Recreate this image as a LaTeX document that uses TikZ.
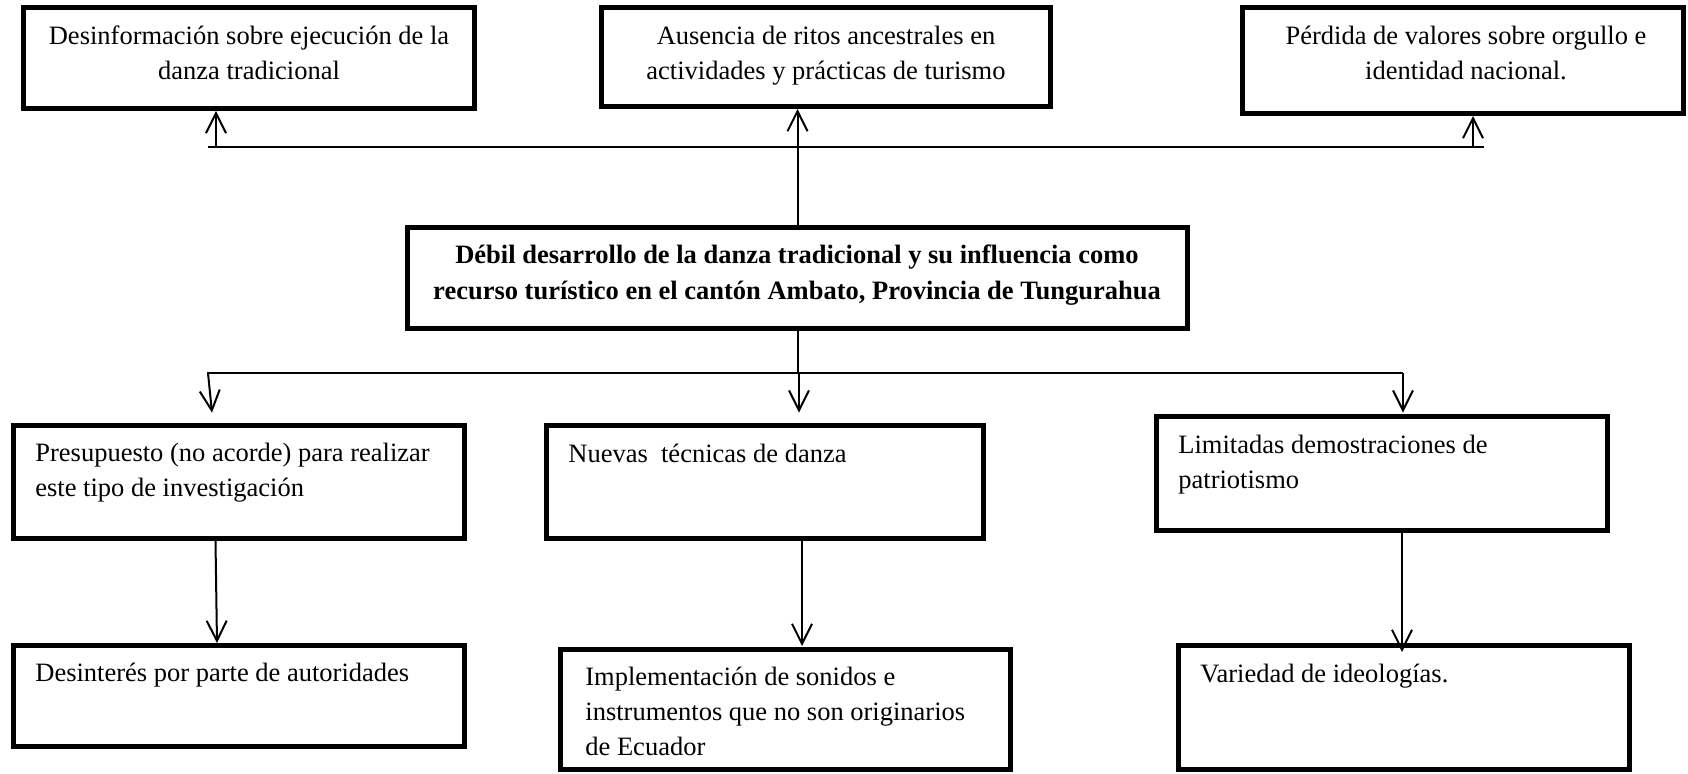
\documentclass[tikz,border=0pt]{standalone}
\usepackage{fontspec}
\setmainfont{Liberation Serif}
\usetikzlibrary{arrows.meta}
\begin{document}
\begin{tikzpicture}[x=0.5pt,y=-0.5pt,
  box/.style={draw, line width=2.5pt, inner sep=0pt, rectangle},
  txt/.style={inner sep=0pt, font=\fontsize{13.25pt}{17.5pt}\selectfont},
  btxt/.style={inner sep=0pt, font=\fontsize{13.25pt}{17.5pt}\selectfont\bfseries},
  conn/.style={line width=1pt},
  arr/.style={conn, -{Straight Barb[length=10pt,width=10pt,line width=1pt]}}]
\useasboundingbox (0,0) rectangle (1688,774);

% boxes
\node[box, minimum width=225.5pt, minimum height=50.5pt] (b1) at (249,58) {};
\node[box, minimum width=224.5pt, minimum height=49.5pt] (b2) at (826,57) {};
\node[box, minimum width=220.5pt, minimum height=53pt] (b3) at (1463,60.5) {};
\node[box, minimum width=390pt, minimum height=50.5pt] (bc) at (797.5,278) {};
\node[box, minimum width=225.5pt, minimum height=56.5pt] (b4) at (239,482) {};
\node[box, minimum width=218.5pt, minimum height=56.5pt] (b5) at (765,482) {};
\node[box, minimum width=225.5pt, minimum height=57pt] (b6) at (1382,473.5) {};
\node[box, minimum width=225.5pt, minimum height=50.5pt] (b7) at (239,696) {};
\node[box, minimum width=225pt, minimum height=60pt] (b8) at (785.5,709.5) {};
\node[box, minimum width=225.5pt, minimum height=62pt] (b9) at (1404,707.5) {};

% texts
\node[txt, anchor=base] (t1a) at (249,45) {Desinformación sobre ejecución de la};
\node[txt, anchor=base] (t1b) at (249,80) {danza tradicional};
\node[txt, anchor=base] (t2a) at (826,45) {Ausencia de ritos ancestrales en};
\node[txt, anchor=base] (t2b) at (826,80) {actividades y prácticas de turismo};
\node[txt, anchor=base] (t3a) at (1466,45) {Pérdida de valores sobre orgullo e};
\node[txt, anchor=base] (t3b) at (1466,80) {identidad nacional.};
\node[btxt, anchor=base] (tca) at (797,264) {Débil desarrollo de la danza tradicional y su influencia como};
\node[btxt, anchor=base] (tcb) at (797,300) {recurso turístico en el cantón Ambato, Provincia de Tungurahua};
\node[txt, anchor=base west] (t4a) at (35,462) {Presupuesto (no acorde) para realizar};
\node[txt, anchor=base west] (t4b) at (35,497) {este tipo de investigación};
\node[txt, anchor=base west] (t5a) at (568,463) {Nuevas\ \ técnicas de danza};
\node[txt, anchor=base west] (t6a) at (1178,454) {Limitadas demostraciones de};
\node[txt, anchor=base west] (t6b) at (1178,489) {patriotismo};
\node[txt, anchor=base west] (t7a) at (35,682) {Desinterés por parte de autoridades};
\node[txt, anchor=base west] (t8a) at (585,686) {Implementación de sonidos e};
\node[txt, anchor=base west] (t8b) at (585,721) {instrumentos que no son originarios};
\node[txt, anchor=base west] (t8c) at (585,756) {de Ecuador};
\node[txt, anchor=base west] (t9a) at (1200,683) {Variedad de ideologías.};

% top connectors
\coordinate (tl) at (208,147);
\coordinate (tr) at (1484,147);
\coordinate (u1) at (216,147);
\coordinate (u3) at (1473,147);
\draw[conn] (tl) -- (tr);
\draw[arr] (u1) -- (u1 |- b1.south);
\draw[arr] (u3) -- (u3 |- b3.south);
\draw[arr] (bc.north) -- (bc.north |- b2.south);

% lower connectors
\coordinate (bl) at (207,373);
\coordinate (br) at (1403,373);
\coordinate (bm) at (bc.south |- bl);
\coordinate (d1) at (208,373);
\coordinate (d1t) at (212,412.7);
\coordinate (d2) at (799,373);
\coordinate (d2t) at (799,412.7);
\coordinate (d3) at (1403,373);
\coordinate (d3t) at (1403,412.7);
\draw[conn] (bc.south) -- (bm);
\draw[conn] (bl) -- (br);
\draw[arr] (d1) -- (d1t);
\draw[arr] (d2) -- (d2t);
\draw[arr] (d3) -- (d3t);

% vertical links
\coordinate (v1) at (215.5,541);
\coordinate (v1t) at (217,643);
\coordinate (v2) at (802,541);
\coordinate (v2t) at (802,646);
\coordinate (v3) at (1402,533);
\coordinate (v3t) at (1402,652);
\draw[arr] (v1 |- b4.south) -- (v1t);
\draw[arr] (v2 |- b5.south) -- (v2t);
\draw[arr] (v3 |- b6.south) -- (v3t);
\end{tikzpicture}
\end{document}
